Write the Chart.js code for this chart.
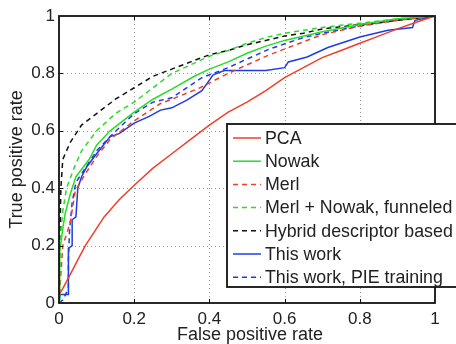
<!DOCTYPE html>
<html>
<head>
<meta charset="utf-8">
<script src="https://cdn.jsdelivr.net/npm/chart.js@4.4.0/dist/chart.umd.min.js"></script>
<style>
  html, body { margin: 0; padding: 0; background: #fff; }
  #wrap { width: 456px; height: 344px; position: relative; }
</style>
</head>
<body>
<div id="wrap"><canvas id="roc"></canvas></div>
<script>
// ROC curves (false positive rate -> true positive rate)
const pcaX = [0, 0.01, 0.03, 0.05, 0.07, 0.1, 0.12, 0.16, 0.2, 0.25, 0.3, 0.35, 0.4, 0.45, 0.5, 0.55, 0.6, 0.65, 0.7, 0.75, 0.8, 0.85, 0.9, 0.95, 1];
const pcaY = [0.03, 0.05, 0.1, 0.15, 0.2, 0.26, 0.3, 0.36, 0.41, 0.47, 0.52, 0.57, 0.62, 0.665, 0.7, 0.74, 0.785, 0.82, 0.855, 0.88, 0.905, 0.93, 0.955, 0.978, 1];

const nowakX = [0, 0.002, 0.008, 0.016, 0.03, 0.045, 0.08, 0.1, 0.136, 0.2, 0.25, 0.3, 0.36, 0.4, 0.45, 0.5, 0.55, 0.6, 0.7, 0.8, 0.9, 1];
const nowakY = [0, 0.18, 0.24, 0.31, 0.38, 0.44, 0.5, 0.55, 0.6, 0.665, 0.71, 0.745, 0.79, 0.815, 0.84, 0.87, 0.895, 0.915, 0.945, 0.97, 0.99, 1];

const merlX = [0, 0.005, 0.01, 0.03, 0.043, 0.07, 0.1, 0.136, 0.2, 0.27, 0.3, 0.375, 0.45, 0.5, 0.56, 0.65, 0.7, 0.8, 0.9, 1];
const merlY = [0, 0.1, 0.2, 0.28, 0.39, 0.45, 0.51, 0.57, 0.635, 0.695, 0.71, 0.75, 0.8, 0.83, 0.865, 0.91, 0.935, 0.965, 0.985, 1];

const funnelX = [0, 0.002, 0.005, 0.01, 0.02, 0.04, 0.06, 0.1, 0.15, 0.2, 0.25, 0.3, 0.35, 0.4, 0.45, 0.5, 0.55, 0.6, 0.7, 0.8, 0.9, 1];
const funnelY = [0, 0.15, 0.25, 0.32, 0.4, 0.47, 0.53, 0.6, 0.66, 0.7, 0.75, 0.8, 0.83, 0.86, 0.88, 0.905, 0.925, 0.94, 0.96, 0.975, 0.99, 1];

const hybridX = [0, 0.002, 0.005, 0.01, 0.03, 0.06, 0.1, 0.15, 0.2, 0.25, 0.3, 0.35, 0.4, 0.45, 0.5, 0.55, 0.6, 0.65, 0.7, 0.8, 0.9, 1];
const hybridY = [0, 0.2, 0.4, 0.5, 0.56, 0.62, 0.66, 0.71, 0.75, 0.79, 0.815, 0.84, 0.865, 0.88, 0.9, 0.915, 0.93, 0.94, 0.955, 0.97, 0.985, 1];

const oursX = [0, 0.003, 0.025, 0.025, 0.035, 0.035, 0.045, 0.05, 0.06, 0.074, 0.1, 0.136, 0.16, 0.2, 0.24, 0.27, 0.3, 0.34, 0.38, 0.41, 0.44, 0.55, 0.6, 0.61, 0.66, 0.715, 0.8, 0.875, 0.94, 0.947, 1];
const oursY = [0, 0.03, 0.03, 0.19, 0.2, 0.29, 0.3, 0.4, 0.44, 0.475, 0.52, 0.58, 0.59, 0.627, 0.65, 0.672, 0.68, 0.707, 0.74, 0.795, 0.81, 0.81, 0.82, 0.84, 0.857, 0.89, 0.927, 0.95, 0.96, 0.985, 1];

const pieX = [0, 0.01, 0.025, 0.025, 0.028, 0.035, 0.045, 0.07, 0.1, 0.136, 0.2, 0.25, 0.3, 0.38, 0.45, 0.5, 0.56, 0.65, 0.7, 0.8, 0.9, 1];
const pieY = [0, 0.01, 0.05, 0.15, 0.25, 0.35, 0.42, 0.47, 0.53, 0.58, 0.66, 0.7, 0.715, 0.785, 0.82, 0.85, 0.885, 0.925, 0.94, 0.965, 0.985, 1];

const labels = ['PCA', 'Nowak', 'Merl', 'Merl + Nowak, funneled', 'Hybrid descriptor based', 'This work', 'This work, PIE training'];
const tickValues = [0, 0.2, 0.4, 0.6, 0.8, 1];

const RED = 'rgb(238,64,40)';
const GREEN = 'rgb(40,220,40)';
const BLUE = 'rgb(30,60,230)';
const BLACK = '#111';
const DASH = [5, 4];
const FONT = '"Liberation Sans", Arial, sans-serif';

function pts(xs, ys) {
    return xs.map((x, i) => ({ x: x, y: ys[i] }));
}

function series(label, xs, ys, color, dashed) {
    return {
        label: label,
        data: pts(xs, ys),
        borderColor: color,
        backgroundColor: color,
        borderWidth: 1.5,
        borderDash: dashed ? DASH : [],
        pointRadius: 0,
        showLine: true,
        tension: 0,
        fill: false
    };
}

// frame, inward ticks, dotted grid, axis titles and the boxed legend (MATLAB look)
const matlabLook = {
    id: 'matlabLook',
    beforeDatasetsDraw(chart) {
        const { ctx, chartArea: a, scales } = chart;
        ctx.save();
        ctx.strokeStyle = '#999';
        ctx.lineWidth = 1;
        ctx.setLineDash([1, 3]);
        tickValues.slice(1, -1).forEach(v => {
            const px = Math.round(scales.x.getPixelForValue(v)) + 0.5;
            const py = Math.round(scales.y.getPixelForValue(v)) + 0.5;
            ctx.beginPath();
            ctx.moveTo(px, a.top); ctx.lineTo(px, a.bottom);
            ctx.moveTo(a.left, py); ctx.lineTo(a.right, py);
            ctx.stroke();
        });
        ctx.restore();
    },
    afterDraw(chart) {
        const { ctx, chartArea: a, scales } = chart;
        ctx.save();
        ctx.strokeStyle = '#111';
        ctx.lineWidth = 1.8;
        ctx.setLineDash([]);
        ctx.strokeRect(a.left, a.top, a.right - a.left, a.bottom - a.top);

        ctx.lineWidth = 1;
        tickValues.slice(1, -1).forEach(v => {
            const px = Math.round(scales.x.getPixelForValue(v)) + 0.5;
            const py = Math.round(scales.y.getPixelForValue(v)) + 0.5;
            ctx.beginPath();
            ctx.moveTo(px, a.bottom); ctx.lineTo(px, a.bottom - 4);
            ctx.moveTo(px, a.top); ctx.lineTo(px, a.top + 4);
            ctx.moveTo(a.left, py); ctx.lineTo(a.left + 4, py);
            ctx.moveTo(a.right, py); ctx.lineTo(a.right - 4, py);
            ctx.stroke();
        });

        // axis titles
        ctx.fillStyle = '#222';
        ctx.font = '18px ' + FONT;
        ctx.textAlign = 'center';
        ctx.textBaseline = 'middle';
        ctx.fillText('False positive rate', 250, 335);
        ctx.translate(17, (a.top + a.bottom) / 2);
        ctx.rotate(-Math.PI / 2);
        ctx.fillText('True positive rate', 0, 0);
        ctx.setTransform(1, 0, 0, 1, 0, 0);

        // legend box
        const bx = 227, by = 124, bw = 240, bh = 163;
        ctx.fillStyle = '#fff';
        ctx.fillRect(bx, by, bw, bh);
        ctx.strokeStyle = '#111';
        ctx.lineWidth = 1.8;
        ctx.strokeRect(bx, by, bw, bh);

        ctx.textAlign = 'left';
        ctx.font = '17.8px ' + FONT;
        chart.data.datasets.forEach((ds, i) => {
            const y = 138 + i * 23.2;
            ctx.strokeStyle = ds.borderColor;
            ctx.lineWidth = 1.5;
            ctx.setLineDash(ds.borderDash);
            ctx.beginPath();
            ctx.moveTo(233, y); ctx.lineTo(261, y);
            ctx.stroke();
            ctx.setLineDash([]);
            ctx.fillStyle = '#222';
            ctx.fillText(ds.label, 265, y + 1);
        });
        ctx.restore();
    }
};

const tickFont = { family: FONT, size: 17 };

new Chart(document.getElementById('roc').getContext('2d'), {
    type: 'scatter',
    data: {
        datasets: [
            series(labels[0], pcaX, pcaY, RED, false),
            series(labels[1], nowakX, nowakY, GREEN, false),
            series(labels[2], merlX, merlY, RED, true),
            series(labels[3], funnelX, funnelY, GREEN, true),
            series(labels[4], hybridX, hybridY, BLACK, true),
            series(labels[5], oursX, oursY, BLUE, false),
            series(labels[6], pieX, pieY, BLUE, true)
        ]
    },
    options: {
        responsive: true,
        maintainAspectRatio: false,
        animation: false,
        layout: { padding: { left: 0, top: 16, right: 21, bottom: 0 } },
        plugins: { legend: { display: false }, tooltip: { enabled: false } },
        scales: {
            x: {
                type: 'linear', min: 0, max: 1,
                afterFit: s => { s.height = 41; },
                afterBuildTicks: s => { s.ticks = tickValues.map(v => ({ value: v })); },
                grid: { display: false, drawTicks: false },
                border: { display: false },
                ticks: { padding: 6, color: '#222', font: tickFont, callback: v => String(v) }
            },
            y: {
                type: 'linear', min: 0, max: 1,
                afterFit: s => { s.width = 59; },
                afterBuildTicks: s => { s.ticks = tickValues.map(v => ({ value: v })); },
                grid: { display: false, drawTicks: false },
                border: { display: false },
                ticks: { padding: 4, color: '#222', font: tickFont, callback: v => String(v) }
            }
        }
    },
    plugins: [matlabLook]
});
</script>
</body>
</html>
